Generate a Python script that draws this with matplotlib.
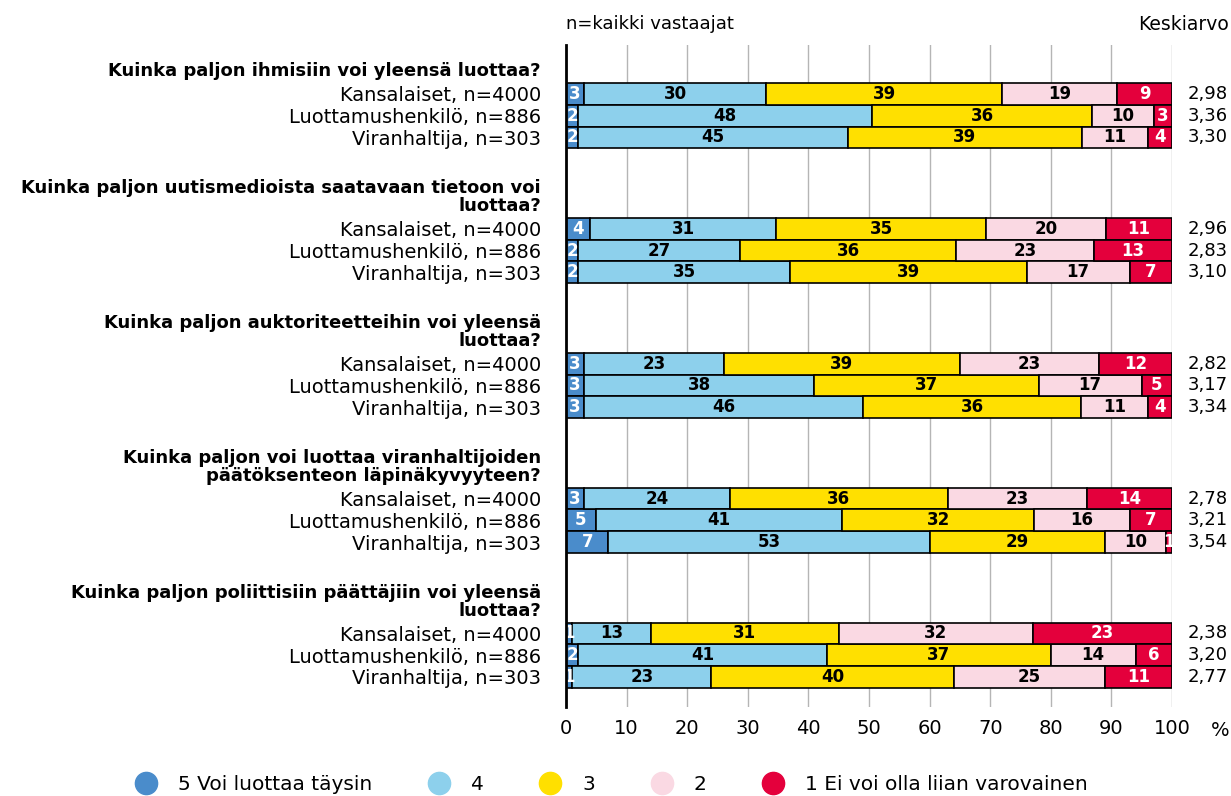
import matplotlib
matplotlib.use("Agg")
import matplotlib.pyplot as plt
import matplotlib.transforms as mtransforms
from matplotlib.lines import Line2D
import numpy as np

plt.rcParams['font.family'] = ['DejaVu Sans']

questions = [
    "Kuinka paljon ihmisiin voi yleensä luottaa?",
    "Kuinka paljon uutismedioista saatavaan tietoon voi\nluottaa?",
    "Kuinka paljon auktoriteetteihin voi yleensä\nluottaa?",
    "Kuinka paljon voi luottaa viranhaltijoiden\npäätöksenteon läpinäkyvyyteen?",
    "Kuinka paljon poliittisiin päättäjiin voi yleensä\nluottaa?",
]
groups = ["Kansalaiset, n=4000", "Luottamushenkilö, n=886", "Viranhaltija, n=303"]
categories = ["5 Voi luottaa täysin", "4", "3", "2", "1 Ei voi olla liian varovainen"]
colors = ["#4A8CCB", "#8DD0EC", "#FFE000", "#FAD9E3", "#E4003C"]
text_colors = ["white", "black", "black", "black", "white"]

# rows: question x respondent group, columns: 5,4,3,2,1
values = np.array([
    [3, 30, 39, 19, 9],
    [2, 48, 36, 10, 3],
    [2, 45, 39, 11, 4],
    [4, 31, 35, 20, 11],
    [2, 27, 36, 23, 13],
    [2, 35, 39, 17, 7],
    [3, 23, 39, 23, 12],
    [3, 38, 37, 17, 5],
    [3, 46, 36, 11, 4],
    [3, 24, 36, 23, 14],
    [5, 41, 32, 16, 7],
    [7, 53, 29, 10, 1],
    [1, 13, 31, 32, 23],
    [2, 41, 37, 14, 6],
    [1, 23, 40, 25, 11],
])
means = ["2,98", "3,36", "3,30", "2,96", "2,83", "3,10", "2,82", "3,17", "3,34",
         "2,78", "3,21", "3,54", "2,38", "3,20", "2,77"]

# bar positions: 3 bars per question, question blocks spaced apart
group_step = 6.2
ypos = np.array([q * group_step + i for q in range(len(questions)) for i in range(3)])
shares = values / values.sum(axis=1, keepdims=True) * 100

fig = plt.figure(figsize=(12.31, 7.96), dpi=100)
ax = fig.add_axes([566 / 1231, 1 - 707 / 796, 606 / 1231, 662 / 796])

left = np.zeros(len(ypos))
for j, cat in enumerate(categories):
    ax.barh(ypos, shares[:, j], left=left, height=1.0, color=colors[j],
            edgecolor="black", linewidth=1.2, zorder=3)
    for k in range(len(ypos)):
        ax.text(left[k] + shares[k, j] / 2, ypos[k], str(values[k, j]),
                ha="center", va="center", fontsize=12, fontweight="bold",
                color=text_colors[j], zorder=4)
    left += shares[:, j]

ax.set_xlim(0, 100)
ax.set_ylim(ypos[-1] + 1.38, -2.25)
ax.set_xticks(range(0, 101, 10))
ax.tick_params(axis="x", length=0, labelsize=14, pad=9)
ax.set_yticks(ypos)
ax.set_yticklabels(groups * len(questions), fontsize=14)
ax.tick_params(axis="y", length=0, pad=18)
ax.xaxis.grid(True, color="#b5b5b5", linewidth=1, zorder=0)
for s in ["top", "right", "bottom"]:
    ax.spines[s].set_visible(False)
ax.spines["left"].set_linewidth(2)
ax.spines["left"].set_zorder(5)

for q, text in enumerate(questions):
    ax.annotate(text, xy=(0, ypos[q * 3] - 0.5), xycoords=("axes fraction", "data"),
                xytext=(-25, 3), textcoords="offset pixels", ha="right", va="bottom",
                multialignment="right", fontsize=13, fontweight="bold",
                linespacing=1.0)

trans = mtransforms.blended_transform_factory(fig.transFigure, ax.transData)
for k in range(len(ypos)):
    ax.text(1228 / 1231, ypos[k], means[k], transform=trans, ha="right",
            va="center", fontsize=13)

fig.text(566 / 1231, 1 - 24 / 796, "n=kaikki vastaajat", ha="left", va="center", fontsize=13)
fig.text(1229 / 1231, 1 - 24 / 796, "Keskiarvo", ha="right", va="center", fontsize=13.5)
fig.text(1229 / 1231, 1 - 731 / 796, "%", ha="right", va="center", fontsize=14)

handles = [Line2D([0], [0], marker="o", linestyle="", markersize=16,
                  markerfacecolor=c, markeredgecolor=c) for c in colors]
fig.legend(handles, categories, loc="center", bbox_to_anchor=(0.493, 1 - 785 / 796),
           ncol=5, frameon=False, fontsize=14.5, columnspacing=2.3, handletextpad=0.6)

fig.savefig("out.png", dpi=100)
